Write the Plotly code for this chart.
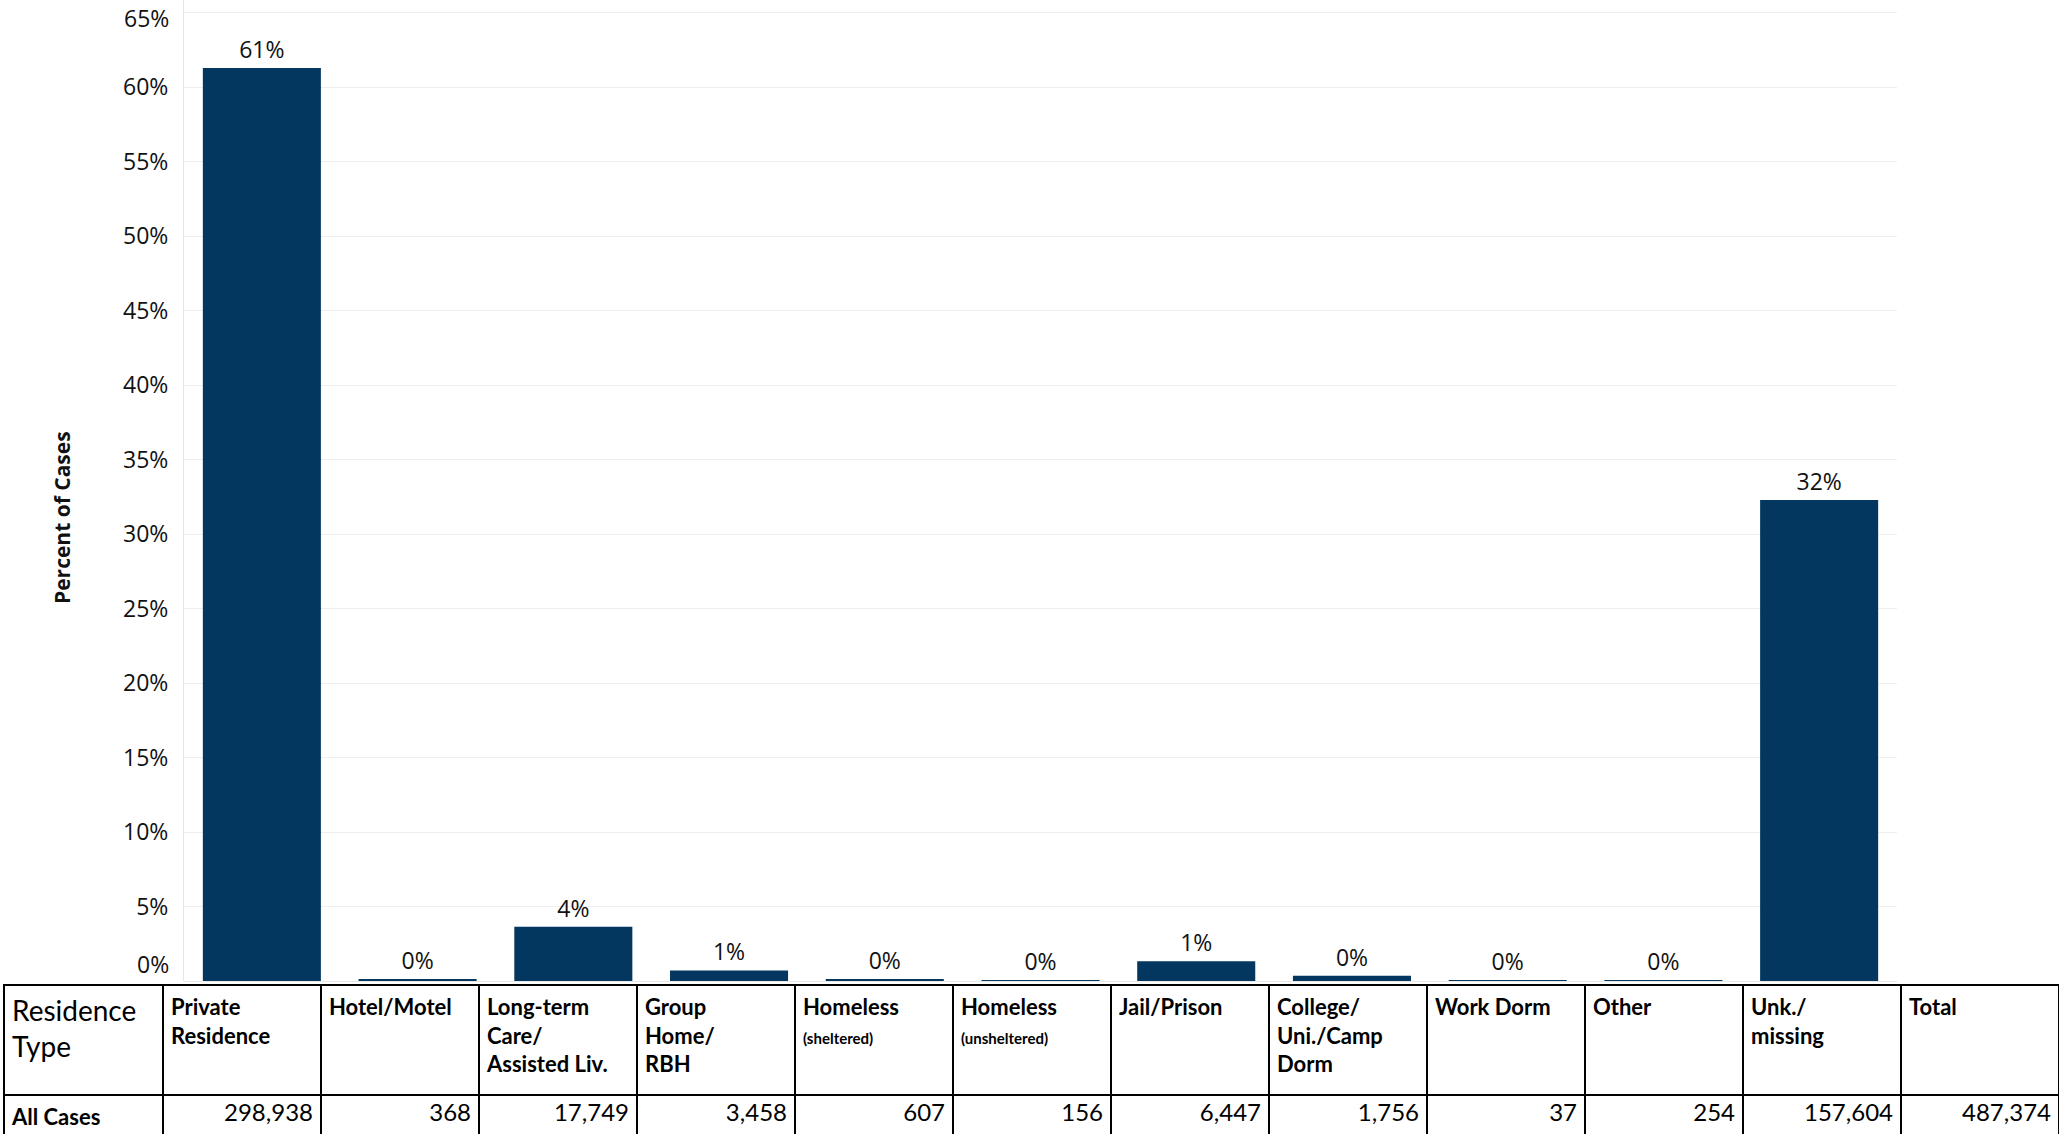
import plotly.graph_objects as go

# ---- data ----
categories = ["Private Residence", "Hotel/Motel", "Long-term Care/Assisted Liv.",
              "Group Home/RBH", "Homeless (sheltered)", "Homeless (unsheltered)",
              "Jail/Prison", "College/Uni./Camp Dorm", "Work Dorm", "Other", "Unk./missing"]
pct_cases = [61.3, 0.08, 3.64, 0.71, 0.12, 0.03, 1.32, 0.36, 0.01, 0.05, 32.3]
header_labels = ["Residence<br>Type",
                 "<b>Private</b><br><b>Residence</b>",
                 "<b>Hotel/Motel</b>",
                 "<b>Long-term</b><br><b>Care/</b><br><b>Assisted Liv.</b>",
                 "<b>Group</b><br><b>Home/</b><br><b>RBH</b>",
                 "<b>Homeless</b><br><span style='font-size:15px'><b>(sheltered)</b></span>",
                 "<b>Homeless</b><br><span style='font-size:15px'><b>(unsheltered)</b></span>",
                 "<b>Jail/Prison</b>",
                 "<b>College/</b><br><b>Uni./Camp</b><br><b>Dorm</b>",
                 "<b>Work Dorm</b>",
                 "<b>Other</b>",
                 "<b>Unk./</b><br><b>missing</b>",
                 "<b>Total</b>"]
row_label = "<b>All Cases</b>"
case_counts = ["298,938", "368", "17,749", "3,458", "607", "156", "6,447",
               "1,756", "37", "254", "157,604", "487,374"]
ytick_vals = [5, 10, 15, 20, 25, 30, 35, 40, 45, 50, 55, 60, 65]

W, H = 2059, 1134
BAR = "#03375F"
TICKFONT = "Open Sans"
TABFONT = "Lato"
TXT = "#111111"

fig = go.Figure()

fig.add_trace(go.Bar(
    x=categories, y=pct_cases,
    marker=dict(color=BAR, line=dict(width=0)),
    texttemplate="%{y:.0f}%", textposition="outside",
    textfont=dict(family=TICKFONT, size=23, color=TXT),
    cliponaxis=False, hoverinfo="skip",
))

ncols = len(header_labels)
fig.add_trace(go.Table(
    domain=dict(x=[4 / W, 1.0], y=[0, (H - 985) / H]),
    columnwidth=[159] + [158] * (ncols - 1),
    header=dict(
        values=header_labels,
        align="left",
        height=110,
        fill=dict(color="white"),
        line=dict(color="black", width=2.5),
        font=dict(family=TABFONT, size=[28] + [22] * (ncols - 1), color="black"),
    ),
    cells=dict(
        values=[[row_label]] + [[v] for v in case_counts],
        align=["left"] + ["right"] * (ncols - 1),
        height=39,
        fill=dict(color="white"),
        line=dict(color="black", width=2.5),
        font=dict(family=TABFONT, size=[22] + [24] * (ncols - 1), color="black"),
    ),
))

y_bottom = (H - 981) / H
edge_labels = [0, 65]
edge_shift = {0: 17, 65: -5}
fig.update_layout(
    width=W, height=H,
    margin=dict(l=0, r=0, t=0, b=0),
    paper_bgcolor="white", plot_bgcolor="white",
    showlegend=False,
    bargap=0.242,
    xaxis=dict(domain=[184 / W, 1897 / W], showticklabels=False, showgrid=False,
               zeroline=False, showline=False, ticks=""),
    yaxis=dict(domain=[y_bottom, 1.0], range=[0, 65.87],
               tickvals=ytick_vals, ticktext=[f"{v}%" for v in ytick_vals],
               tickfont=dict(family=TICKFONT, size=23, color=TXT),
               showgrid=True, gridcolor="#EEEEEE", gridwidth=1,
               zeroline=True, zerolinecolor="#E6E6E6", zerolinewidth=1,
               showline=True, linecolor="#E6E6E6", linewidth=1,
               ticks="", ticklabelstandoff=10),
    annotations=[
        dict(text=f"{v}%", xref="paper", yref="y", x=171 / W, y=v, xanchor="right",
             yanchor="middle", yshift=edge_shift[v], showarrow=False,
             font=dict(family=TICKFONT, size=23, color=TXT))
        for v in edge_labels
    ] + [
        dict(text="<b>Percent of Cases</b>", xref="paper", yref="paper",
             x=62 / W, y=(H - 518) / H, xanchor="center", yanchor="middle",
             textangle=-90, showarrow=False,
             font=dict(family=TICKFONT, size=21, color=TXT)),
    ],
)

fig.write_html("out.html", config={"displayModeBar": False},
               post_script="document.body.style.margin='0';")
